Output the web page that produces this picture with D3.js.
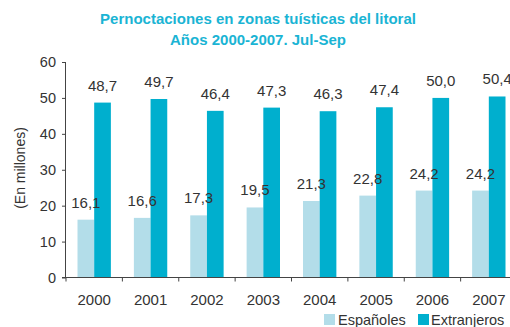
<!DOCTYPE html>
<html>
<head>
<meta charset="utf-8">
<script src="https://cdn.jsdelivr.net/npm/d3@7/dist/d3.min.js"></script>
<style>
  html, body { margin: 0; padding: 0; background: #fff; }
  svg { display: block; font-family: "Liberation Sans", Arial, sans-serif; }
</style>
</head>
<body>
<svg id="chart" width="510" height="327"></svg>
<script>
// Overnight stays in coastal tourist zones, July–September (millions)
const years = ["2000", "2001", "2002", "2003", "2004", "2005", "2006", "2007"];
const espanoles = [16.1, 16.6, 17.3, 19.5, 21.3, 22.8, 24.2, 24.2];
const extranjeros = [48.7, 49.7, 46.4, 47.3, 46.3, 47.4, 50.0, 50.4];
const seriesNames = ["Españoles", "Extranjeros"];
const yTicks = [0, 10, 20, 30, 40, 50, 60];
const titleLines = ["Pernoctaciones en zonas tuísticas del litoral", "Años 2000-2007. Jul-Sep"];

const colors = { "Españoles": "#b3dde9", "Extranjeros": "#00afce" };
const textColor = "#333";
const axisColor = "#444";

const svg = d3.select("#chart");
const plot = { left: 66, right: 517, top: 62, bottom: 277.5 };

const x = d3.scaleBand().domain(years).range([plot.left, plot.right]).paddingInner(0).paddingOuter(0);
const inner = d3.scaleBand().domain(seriesNames).range([11.5, x.bandwidth() - 11.5]);
const y = d3.scaleLinear().domain([0, 60]).range([plot.bottom, plot.top]);

const fmt = v => d3.format(".1f")(v).replace(".", ",");

// Title
svg.append("g").selectAll("text").data(titleLines).join("text")
  .attr("x", 258).attr("y", (d, i) => 24 + i * 21)
  .attr("text-anchor", "middle")
  .attr("fill", "#1ab4d4")
  .attr("font-weight", "bold")
  .attr("font-size", 15)
  .text(d => d);

// Bars
const rows = years.map((yr, i) => ({ year: yr, values: [
  { name: "Españoles", v: espanoles[i] },
  { name: "Extranjeros", v: extranjeros[i] }
]}));

const groups = svg.append("g").selectAll("g").data(rows).join("g")
  .attr("transform", d => `translate(${x(d.year)},0)`);

groups.selectAll("rect").data(d => d.values).join("rect")
  .attr("x", d => inner(d.name))
  .attr("width", inner.bandwidth())
  .attr("y", d => y(d.v))
  .attr("height", d => y(0) - y(d.v))
  .attr("fill", d => colors[d.name]);

groups.selectAll("text").data(d => d.values).join("text")
  .attr("x", d => inner(d.name) + inner.bandwidth() / 2)
  .attr("y", d => y(d.v) - 12)
  .attr("text-anchor", "middle")
  .attr("font-size", 15)
  .attr("fill", textColor)
  .text(d => fmt(d.v));

// Y axis
const yAxis = svg.append("g").attr("transform", `translate(${plot.left},0)`)
  .call(d3.axisLeft(y).tickValues(yTicks).tickSize(4).tickPadding(6).tickFormat(d3.format("d")));
yAxis.select(".domain").attr("stroke", axisColor).attr("d", `M-0.5,${plot.top}V${plot.bottom}`);
yAxis.selectAll(".tick line").attr("stroke", axisColor);
yAxis.selectAll(".tick text").attr("font-size", 14.5).attr("fill", textColor)
  .attr("font-family", "Liberation Sans, Arial, sans-serif");

// X axis with ticks at band boundaries
const xg = svg.append("g");
xg.append("line").attr("x1", plot.left - 4).attr("x2", plot.right).attr("y1", plot.bottom).attr("y2", plot.bottom)
  .attr("stroke", axisColor);
xg.selectAll("line.tk").data(years).join("line").attr("class", "tk")
  .attr("x1", d => x(d)).attr("x2", d => x(d))
  .attr("y1", plot.bottom).attr("y2", plot.bottom + 4).attr("stroke", axisColor);
xg.selectAll("text").data(years).join("text")
  .attr("x", d => x(d) + x.bandwidth() / 2)
  .attr("y", 305)
  .attr("text-anchor", "middle")
  .attr("font-size", 15)
  .attr("fill", textColor)
  .text(d => d);

// Y axis title
svg.append("text")
  .attr("transform", "translate(25,168) rotate(-90)")
  .attr("text-anchor", "middle")
  .attr("font-size", 14)
  .attr("fill", textColor)
  .text("(En millones)");

// Legend
const legendPos = [{ sx: 324, tx: 338 }, { sx: 418, tx: 431 }];
const lg = svg.append("g").selectAll("g").data(seriesNames).join("g");
lg.append("rect")
  .attr("x", (d, i) => legendPos[i].sx).attr("y", 314)
  .attr("width", 11).attr("height", 11)
  .attr("fill", d => colors[d]);
lg.append("text")
  .attr("x", (d, i) => legendPos[i].tx).attr("y", 324.5)
  .attr("font-size", 14.5)
  .attr("fill", textColor)
  .text(d => d);
</script>
</body>
</html>
